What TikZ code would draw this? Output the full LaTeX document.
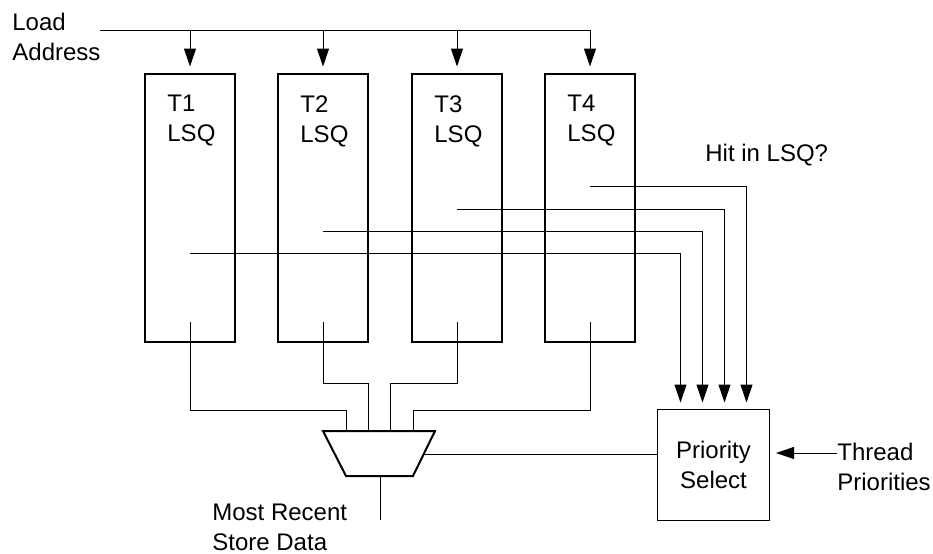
\documentclass[tikz,border=0pt]{standalone}
\usepackage{fontspec}
\setmainfont{Liberation Sans}
\usetikzlibrary{arrows.meta,positioning,calc}

\begin{document}
\begin{tikzpicture}[x=0.5pt,y=-0.5pt,>={Triangle[length=9pt,width=6pt]},
  every node/.style={font=\fontsize{12}{15}\selectfont},
  lsq/.style={draw,line width=1pt,minimum width=45pt,minimum height=134pt,inner sep=0pt},
  lbl/.style={align=left,inner sep=0pt},
  wire/.style={line width=0.5pt},
  sig/.style={wire,->,shorten >=3pt}]
\useasboundingbox (0,0) rectangle (933,553);

% queues
\node[lsq] (t1) at (190,207.5) {};
\node[lsq] (t2) at (323,207.5) {};
\node[lsq] (t3) at (457,207.5) {};
\node[lsq] (t4) at (590,207.5) {};
\node[lbl,anchor=west] at (167,121) {T1\\LSQ};
\node[lbl,anchor=west] at (300,121) {T2\\LSQ};
\node[lbl,anchor=west] at (434,121) {T3\\LSQ};
\node[lbl,anchor=west] at (567,121) {T4\\LSQ};

% load address bus
\node[lbl,anchor=west] (addr) at (12,37) {Load\\Address};
\coordinate (la) at (100,30);
\draw[wire] (la) -- (t4.north |- la);
\draw[sig] (t1.north |- la) -- (t1.north);
\draw[sig] (t2.north |- la) -- (t2.north);
\draw[sig] (t3.north |- la) -- (t3.north);
\draw[sig] (t4.north |- la) -- (t4.north);

% priority select
\node[draw,wire,minimum width=56pt,minimum height=55.5pt,align=center,inner sep=0pt] (prio) at (713.5,464.5) {Priority\\Select};
\node[lbl,anchor=west] (hit) at (705,155) {Hit in LSQ?};
\coordinate (h1) at (190,253);
\coordinate (h2) at (323,231);
\coordinate (h3) at (457,209);
\coordinate (h4) at (590,186);
\draw[sig] (h1) -| ([xshift=-16.5pt]prio.north);
\draw[sig] (h2) -| ([xshift=-5.5pt]prio.north);
\draw[sig] (h3) -| ([xshift=5.5pt]prio.north);
\draw[sig] (h4) -| ([xshift=16.5pt]prio.north);

\node[lbl,anchor=west] (thr) at (837,466.5) {Thread\\Priorities};
\coordinate (thr-in) at (837,453);
\draw[sig] (thr-in) -- (prio.east |- thr-in);

% mux
\draw[line width=1pt] (323,431) -- (435,431) -- (413,476) -- (346,476) -- cycle;
\coordinate (m1) at (346,431);
\coordinate (m2) at (368,431);
\coordinate (m3) at (390,431);
\coordinate (m4) at (413,431);
\coordinate (msel) at (424,454);
\coordinate (mout) at (380,476);
\coordinate (o1) at ([yshift=10.5pt]t1.south);
\coordinate (o2) at ([yshift=10.5pt]t2.south);
\coordinate (o3) at ([yshift=10.5pt]t3.south);
\coordinate (o4) at ([yshift=10.5pt]t4.south);
\draw[wire] (o1) -- ++(0,89) -| (m1);
\draw[wire] (o2) -- ++(0,62) -| (m2);
\draw[wire] (o3) -- ++(0,62) -| (m3);
\draw[wire] (o4) -- ++(0,89) -| (m4);
\draw[wire] (prio.west |- msel) -- (msel);

\coordinate (out) at (380,520);
\draw[wire] (mout) -- (out);
\node[lbl,anchor=west] (data) at (212,527) {Most Recent\\Store Data};
\end{tikzpicture}
\end{document}
